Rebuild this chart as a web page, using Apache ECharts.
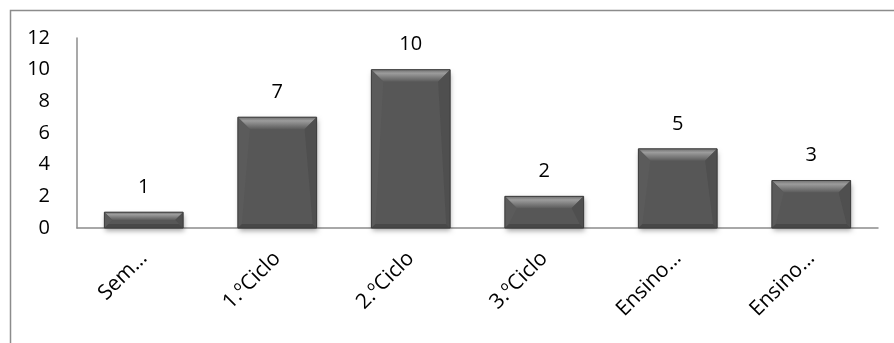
<!DOCTYPE html>
<html>
<head>
<meta charset="utf-8">
<script src="https://cdn.jsdelivr.net/npm/echarts@6/dist/echarts.min.js"></script>
<style>
  html, body { margin: 0; padding: 0; background: #ffffff; }
  #chart { width: 894px; height: 343px; }
</style>
</head>
<body>
<div id="chart"></div>
<script>
// Number of people per education level
const categories = ['Sem…', '1.ºCiclo', '2.ºCiclo', '3.ºCiclo', 'Ensino…', 'Ensino…'];
const counts = [1, 7, 10, 2, 5, 3];
const yTicks = { min: 0, max: 12, interval: 2 };

const FONT = 'Open Sans';
const FS = 20;
const FW = 500;
const chart = echarts.init(document.getElementById('chart'), null, { renderer: 'canvas' });

// Bevelled bar: a flat face with lighter top bevel and slightly darker sides/bottom,
// plus the value written above it
function renderBevelBar(params, api) {
  const idx = api.value(0);
  const val = api.value(1);
  const top = api.coord([idx, val]);
  const base = api.coord([idx, 0]);
  const band = api.size([1, 0])[0];
  const w = band * 0.59;
  const x0 = top[0] - w / 2, x1 = top[0] + w / 2;
  const y0 = top[1], y1 = base[1];
  const h = y1 - y0;
  const b = Math.min(12, h / 2, w / 2);
  const bs = Math.min(4, h / 3);
  return {
    type: 'group',
    children: [
      { type: 'rect', shape: { x: x0, y: y0, width: w, height: h },
        style: { fill: '#575757', shadowBlur: 5, shadowOffsetX: 1, shadowOffsetY: 3, shadowColor: 'rgba(0,0,0,0.35)' } },
      // top bevel
      { type: 'polygon', shape: { points: [[x0, y0], [x1, y0], [x1 - b, y0 + b], [x0 + b, y0 + b]] },
        style: { fill: new echarts.graphic.LinearGradient(0, 0, 0, 1, [
          { offset: 0, color: '#707070' }, { offset: 0.3, color: '#9c9c9c' }, { offset: 1, color: '#5b5b5b' }]) } },
      // left bevel
      { type: 'polygon', shape: { points: [[x0, y0], [x0 + b, y0 + b], [x0 + bs, y1 - bs], [x0, y1]] },
        style: { fill: '#5b5b5b' } },
      // right bevel
      { type: 'polygon', shape: { points: [[x1, y0], [x1, y1], [x1 - bs, y1 - bs], [x1 - b, y0 + b]] },
        style: { fill: '#4f4f4f' } },
      // bottom bevel
      { type: 'polygon', shape: { points: [[x0, y1], [x1, y1], [x1 - bs, y1 - bs], [x0 + bs, y1 - bs]] },
        style: { fill: '#484848' } },
      // outline
      { type: 'rect', shape: { x: x0, y: y0, width: w, height: h },
        style: { fill: null, stroke: '#3c3c3c', lineWidth: 1 } },
      // value label
      { type: 'text', x: top[0], y: y0 - 15,
        style: { text: String(val), fill: '#000', font: FW + ' ' + FS + 'px "' + FONT + '"', align: 'center', verticalAlign: 'bottom' } }
    ]
  };
}

chart.setOption({
  animation: false,
  backgroundColor: '#ffffff',
  graphic: [{
    type: 'rect', left: 8, top: 8, z: -1,
    shape: { width: 1000, height: 500 },
    style: { fill: 'none', stroke: '#8c8c8c', lineWidth: 1.5 }
  }],
  grid: { left: 77, right: 16, top: 38, bottom: 115, containLabel: false },
  xAxis: {
    type: 'category',
    data: categories,
    axisLine: { lineStyle: { color: '#8c8c8c', width: 1.5 } },
    axisTick: { show: false },
    axisLabel: { rotate: 45, interval: 0, color: '#000', fontFamily: FONT, fontSize: 21, fontWeight: FW, margin: 27 }
  },
  yAxis: {
    type: 'value',
    min: yTicks.min, max: yTicks.max, interval: yTicks.interval,
    splitLine: { show: false },
    axisLine: { show: true, lineStyle: { color: '#8c8c8c', width: 1.5 } },
    axisTick: { show: false },
    axisLabel: { color: '#000', fontFamily: FONT, fontSize: FS, fontWeight: FW, margin: 27 }
  },
  series: [{
    type: 'custom',
    renderItem: renderBevelBar,
    encode: { x: 0, y: 1 },
    data: counts.map((v, i) => [i, v])
  }]
});
</script>
</body>
</html>
